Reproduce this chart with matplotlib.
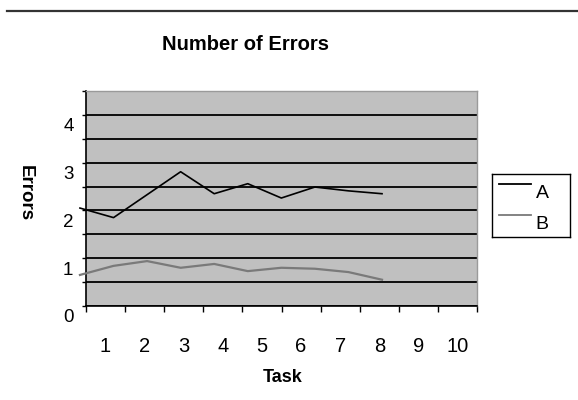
import matplotlib
matplotlib.use('Agg')
import matplotlib.pyplot as plt
import matplotlib.transforms as mtransforms
from matplotlib.lines import Line2D
import numpy as np

# data
tasks = [1, 2, 3, 4, 5, 6, 7, 8, 9, 10]
errors_a = [2.05, 1.85, 2.33, 2.81, 2.35, 2.56, 2.26, 2.49, 2.41, 2.35]
errors_b = [0.65, 0.84, 0.94, 0.80, 0.88, 0.73, 0.80, 0.78, 0.71, 0.55]
series_names = ['A', 'B']
series_colors = ['#000000', '#7a7a7a']
x_labels = ['1', '2', '3', '4', '5', '6', '7', '8', '9', '10']

narrow = ['Liberation Sans Narrow', 'Liberation Sans', 'DejaVu Sans']
wide = ['Liberation Sans', 'DejaVu Sans']

W, H = 578, 400
fig = plt.figure(figsize=(W / 100, H / 100), dpi=100)
fig.patch.set_facecolor('white')

ax = fig.add_axes([86 / W, 1 - 306 / H, (477 - 86) / W, (306 - 91) / H])
ax.set_facecolor('#c0c0c0')
ax.set_xlim(0, 10)
ax.set_ylim(0, 4.5)

# category axis: ticks on boundaries, labels between
ax.set_xticks(np.arange(0, 11))
ax.set_xticklabels([])
ax.set_xticks(np.arange(0.5, 10, 1), minor=True)
ax.set_xticklabels(x_labels, minor=True, fontsize=14.5, family=narrow)
ax.tick_params(axis='x', which='major', direction='out', length=4.5, width=1, color='black')
ax.tick_params(axis='x', which='minor', length=0, pad=22)

yt = np.arange(0, 4.51, 0.5)
ax.set_yticks(yt)
ax.set_yticklabels([str(int(v)) if v == int(v) else '' for v in yt], fontsize=13.5, family=narrow)
ax.tick_params(axis='y', direction='out', length=3, width=1, color='black', pad=6)
shift = mtransforms.ScaledTranslation(0, -0.10, fig.dpi_scale_trans)
for lab in ax.get_yticklabels():
    lab.set_transform(lab.get_transform() + shift)

ax.yaxis.grid(True, color='black', linewidth=1.3)
ax.set_axisbelow(True)
for s in ['left', 'bottom']:
    ax.spines[s].set_color('black')
    ax.spines[s].set_linewidth(1.2)
for s in ['top', 'right']:
    ax.spines[s].set_color('#9a9a9a')
    ax.spines[s].set_linewidth(1)

# the lines sit on their own (squeezed) task scale, as in the picture
ax2 = ax.twiny()
ax2.set_xlim(1.18, 12.83)
ax2.set_xticks([])
for s in ax2.spines.values():
    s.set_visible(False)
ax2.plot(tasks, errors_a, color=series_colors[0], lw=1.2, clip_on=False)
ax2.plot(tasks, errors_b, color=series_colors[1], lw=1.6, clip_on=False)

fig.text(245 / W, 1 - 44 / H, 'Number of Errors', ha='center', va='center',
         fontsize=14.5, fontweight='bold', family=narrow)
fig.text(283 / W, 1 - 377 / H, 'Task', ha='center', va='center',
         fontsize=13, fontweight='bold', family=wide)
fig.text(25 / W, 1 - 193 / H, 'Errors', ha='center', va='center', rotation=-90,
         fontsize=13.5, fontweight='bold', family=wide)

# top rule
fig.add_artist(Line2D([7 / W, 1], [1 - 11 / H, 1 - 11 / H], color='#333333', lw=1.6))

# legend box, Excel style (text sits below its line)
lax = fig.add_axes([492 / W, 1 - 237 / H, (570 - 492) / W, (237 - 174) / H])
lax.set_xlim(0, 1)
lax.set_ylim(0, 1)
lax.set_xticks([])
lax.set_yticks([])
for s in lax.spines.values():
    s.set_color('black')
    s.set_linewidth(1)
for i, (name, col) in enumerate(zip(series_names, series_colors)):
    ly = 0.84 - i * 0.49
    lax.plot([0.09, 0.5], [ly, ly], color=col, lw=1.3)
    lax.text(0.56, ly - 0.15, name, ha='left', va='center', fontsize=14, family=narrow)

fig.savefig('out.png', dpi=100)
